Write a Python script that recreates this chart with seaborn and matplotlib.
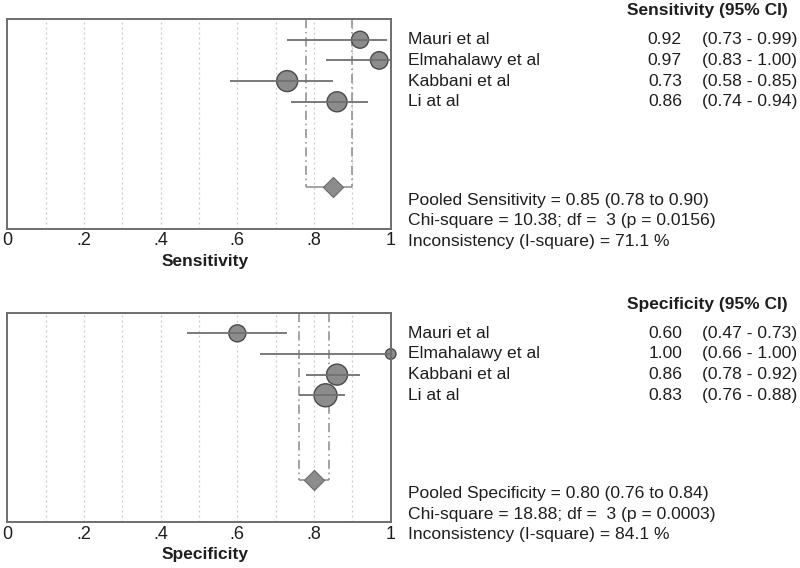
import numpy as np
import pandas as pd
import seaborn as sns
import matplotlib.pyplot as plt
from matplotlib.transforms import blended_transform_factory

# --- data ---
studies = ["Mauri et al", "Elmahalawy et al", "Kabbani et al", "Li at al"]

sens = [0.92, 0.97, 0.73, 0.86]
sens_lo = [0.73, 0.83, 0.58, 0.74]
sens_hi = [0.99, 1.00, 0.85, 0.94]
sens_weight = [17, 17.5, 21, 20]
sens_pooled = [0.85, 0.78, 0.90]
sens_stats = ["Pooled Sensitivity = 0.85 (0.78 to 0.90)",
              "Chi-square = 10.38; df =  3 (p = 0.0156)",
              "Inconsistency (I-square) = 71.1 %"]

spec = [0.60, 1.00, 0.86, 0.83]
spec_lo = [0.47, 0.66, 0.78, 0.76]
spec_hi = [0.73, 1.00, 0.92, 0.88]
spec_weight = [17, 10.5, 21, 23]
spec_pooled = [0.80, 0.76, 0.84]
spec_stats = ["Pooled Specificity = 0.80 (0.76 to 0.84)",
              "Chi-square = 18.88; df =  3 (p = 0.0003)",
              "Inconsistency (I-square) = 84.1 %"]

tick_vals = [0, 0.2, 0.4, 0.6, 0.8, 1.0]
tick_labels = ["0", ".2", ".4", ".6", ".8", "1"]

sns.set_style("white")
plt.rcParams['font.family'] = ['Liberation Sans', 'DejaVu Sans']

TXT = "#1e1e1e"
FILL = "#8c8c8c"
EDGE = "#4a4a4a"
LINE = "#707070"
FS = 12.6


def forest(fig, rect, name, est, lo, hi, weight, pooled, stats):
    ax = fig.add_axes(rect)
    rows = np.arange(1, len(studies) + 1)
    df = pd.DataFrame({"study": studies, "est": est, "lo": lo, "hi": hi,
                       "row": rows, "w": weight})
    prow = 8.1

    # light dotted grid
    for g in np.arange(0.1, 1.0, 0.1):
        ax.axvline(g, color="#c8c8c8", lw=0.9, ls=(0, (1.5, 2.5)), zorder=0)

    # pooled CI bracket
    ax.vlines([pooled[1], pooled[2]], 0, prow, color="#8a8a8a", lw=1.1,
              ls=(0, (6, 2.5, 1, 2.5)), zorder=1)
    ax.hlines(prow, pooled[1], pooled[2], color="#8a8a8a", lw=1.1, zorder=1)

    sns.scatterplot(data=df, x="est", y="row", s=[(w * 0.72) ** 2 for w in weight],
                    color=FILL, edgecolor=EDGE, linewidth=1.0, ax=ax, zorder=2,
                    clip_on=False, legend=False)
    ax.hlines(df["row"], df["lo"], df["hi"], color=LINE, lw=1.3, zorder=3)

    pdf = pd.DataFrame({"x": [pooled[0]], "y": [prow]})
    sns.scatterplot(data=pdf, x="x", y="y", marker="D", s=105, color=FILL,
                    edgecolor="#6a6a6a", linewidth=0.8, ax=ax, zorder=4, legend=False)

    ax.set_xlim(0, 1)
    ax.set_ylim(10.15, 0)
    ax.set_yticks([])
    ax.set_xticks(tick_vals)
    ax.set_xticklabels(tick_labels, fontsize=13, color=TXT)
    ax.tick_params(axis="x", length=0, pad=2.5)
    ax.set_xlabel(name, fontsize=12.5, fontweight="bold", color=TXT)
    ax.xaxis.set_label_coords(0.515, -0.12)
    ax.set_ylabel("")
    for sp in ax.spines.values():
        sp.set_color("#6e6e6e")
        sp.set_linewidth(1.4)

    tr = blended_transform_factory(fig.transFigure, ax.transData)
    ax.text(0.985, -0.42, f"{name} (95% CI)", transform=tr, ha="right",
            va="center", fontsize=12.5, fontweight="bold", color=TXT)
    for i, r in df.iterrows():
        ax.text(0.51, r["row"], r["study"], transform=tr, ha="left",
                va="center", fontsize=FS, color=TXT)
        ax.text(0.8525, r["row"], f"{r['est']:.2f}", transform=tr, ha="right",
                va="center", fontsize=FS, color=TXT)
        ax.text(0.8775, r["row"], f"({r['lo']:.2f} - {r['hi']:.2f})",
                transform=tr, ha="left", va="center", fontsize=FS, color=TXT)
    for k, s in enumerate(stats):
        ax.text(0.51, 8.75 + k, s, transform=tr, ha="left", va="center",
                fontsize=FS, color=TXT)
    return ax


fig = plt.figure(figsize=(8, 5.68), dpi=100)
forest(fig, [0.0091, 0.5968, 0.4793, 0.3697], "Sensitivity",
       sens, sens_lo, sens_hi, sens_weight, sens_pooled, sens_stats)
forest(fig, [0.0091, 0.0805, 0.4793, 0.369], "Specificity",
       spec, spec_lo, spec_hi, spec_weight, spec_pooled, spec_stats)

fig.savefig("out.png", dpi=100)
